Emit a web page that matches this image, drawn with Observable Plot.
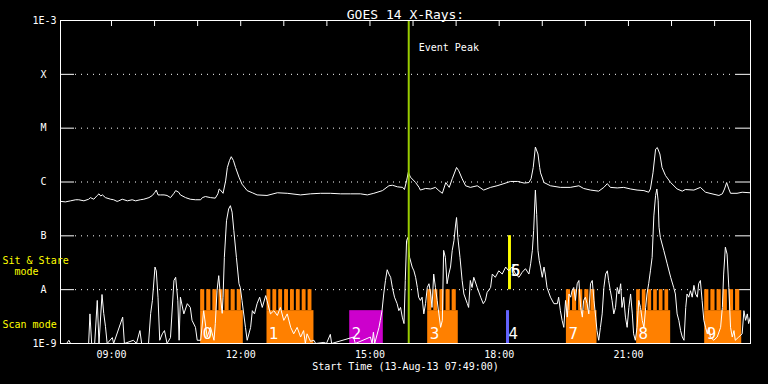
<!DOCTYPE html>
<html><head><meta charset="utf-8">
<script src="https://cdn.jsdelivr.net/npm/d3@7"></script>
<script src="https://cdn.jsdelivr.net/npm/@observablehq/plot@0.6"></script>
<style>html,body{margin:0;padding:0;background:#000;overflow:hidden;}</style>
</head><body><div id="chart"></div>
<script>
// Time in decimal hours (UT, 13-Aug-13); flux as log10(W/m^2)
const startHour = 7 + 49/60;
const endHour = 23 + 50/60;

// GOES long channel (1-8 A)
const longChannel = [
[7.82,-6.36],[7.93,-6.37],[8.05,-6.35],[8.17,-6.33],[8.24,-6.33],[8.36,-6.35],[8.47,-6.32],[8.51,-6.29],
[8.59,-6.32],[8.67,-6.25],[8.71,-6.22],[8.75,-6.26],[8.79,-6.24],[8.86,-6.29],[8.98,-6.32],[9.05,-6.33],
[9.13,-6.36],[9.17,-6.35],[9.25,-6.32],[9.37,-6.35],[9.48,-6.33],[9.56,-6.35],[9.67,-6.33],[9.75,-6.32],
[9.87,-6.29],[9.95,-6.25],[10.00,-6.20],[10.04,-6.15],[10.08,-6.24],[10.14,-6.24],[10.22,-6.24],[10.29,-6.25],
[10.37,-6.29],[10.45,-6.21],[10.49,-6.16],[10.56,-6.19],[10.60,-6.24],[10.72,-6.29],[10.83,-6.32],[10.95,-6.33],
[11.07,-6.33],[11.11,-6.29],[11.18,-6.27],[11.30,-6.29],[11.41,-6.30],[11.47,-6.22],[11.50,-6.13],[11.53,-6.15],
[11.59,-6.21],[11.65,-5.98],[11.69,-5.73],[11.74,-5.60],[11.78,-5.53],[11.83,-5.60],[11.88,-5.73],[11.96,-5.91],
[12.03,-6.04],[12.15,-6.16],[12.27,-6.20],[12.38,-6.24],[12.61,-6.25],[12.85,-6.20],[13.08,-6.21],[13.39,-6.24],
[13.62,-6.22],[13.85,-6.21],[14.08,-6.21],[14.32,-6.22],[14.55,-6.22],[14.78,-6.22],[14.94,-6.24],[15.09,-6.21],
[15.29,-6.16],[15.44,-6.07],[15.52,-6.06],[15.64,-6.09],[15.76,-6.10],[15.80,-6.14],[15.85,-5.98],[15.89,-5.82],
[15.94,-5.91],[16.06,-6.01],[16.14,-6.10],[16.17,-6.15],[16.29,-6.12],[16.41,-6.13],[16.52,-6.10],[16.60,-6.16],
[16.68,-6.21],[16.76,-6.01],[16.84,-6.10],[16.91,-5.94],[17.01,-5.73],[17.06,-5.79],[17.14,-5.94],[17.22,-6.07],
[17.33,-6.10],[17.49,-6.07],[17.64,-6.15],[17.80,-6.10],[17.95,-6.07],[18.11,-6.03],[18.26,-5.99],[18.43,-5.99],
[18.58,-6.02],[18.69,-6.01],[18.74,-5.94],[18.79,-5.73],[18.84,-5.35],[18.90,-5.48],[18.94,-5.73],[18.96,-5.83],
[19.04,-6.01],[19.19,-6.07],[19.42,-6.10],[19.65,-6.10],[19.85,-6.07],[19.96,-6.12],[20.12,-6.15],[20.31,-6.17],
[20.43,-6.10],[20.51,-6.03],[20.58,-6.10],[20.74,-6.11],[20.89,-6.10],[21.05,-6.13],[21.20,-6.15],[21.36,-6.16],
[21.47,-6.19],[21.51,-6.13],[21.57,-5.83],[21.63,-5.39],[21.67,-5.36],[21.73,-5.48],[21.78,-5.73],[21.86,-5.88],
[21.98,-6.01],[22.13,-6.13],[22.25,-6.17],[22.32,-6.14],[22.52,-6.15],[22.67,-6.10],[22.79,-6.19],[22.94,-6.22],
[23.10,-6.25],[23.18,-6.22],[23.23,-6.13],[23.28,-6.01],[23.33,-6.13],[23.37,-6.21],[23.52,-6.21],[23.64,-6.19],
[23.82,-6.20]
];

// GOES short channel (0.5-4 A), floor at 1E-9
const shortChannel = [
[7.82,-9],[7.96,-9],[8.01,-8.94],[8.05,-9],[8.47,-9],[8.50,-8.45],[8.54,-9],[8.61,-9],[8.67,-8.20],[8.71,-9],
[8.78,-8.09],[8.82,-8.44],[8.86,-8.68],[8.90,-9],[9.02,-8.89],[9.05,-9],[9.26,-8.51],[9.30,-9],[9.51,-8.94],[9.58,-9],
[9.66,-8.76],[9.70,-9],[9.86,-9],[9.91,-8.44],[9.95,-8.20],[10.01,-7.58],[10.04,-7.65],[10.08,-8.14],[10.12,-8.94],[10.18,-8.82],
[10.23,-8.76],[10.29,-9],[10.37,-8.89],[10.45,-7.83],[10.49,-7.77],[10.54,-8.20],[10.57,-8.94],[10.60,-8.14],[10.68,-8.45],[10.76,-8.26],
[10.83,-8.33],[10.87,-8.57],[10.95,-8.70],[10.99,-8.94],[11.07,-8.94],[11.14,-8.39],[11.22,-8.88],[11.30,-8.70],[11.38,-8.94],[11.41,-8.63],
[11.45,-8.02],[11.49,-7.74],[11.53,-8.14],[11.57,-8.44],[11.59,-8.14],[11.62,-7.40],[11.67,-6.72],[11.72,-6.50],[11.76,-6.44],[11.80,-6.56],
[11.84,-6.90],[11.90,-7.40],[11.96,-7.89],[11.99,-7.96],[12.03,-8.20],[12.11,-8.70],[12.15,-8.94],[12.23,-8.70],[12.27,-8.39],[12.32,-8.45],
[12.38,-8.26],[12.44,-8.14],[12.50,-8.33],[12.58,-8.11],[12.61,-8.20],[12.69,-8.45],[12.77,-8.39],[12.85,-8.48],[12.92,-8.33],[13.00,-8.57],
[13.08,-8.45],[13.16,-8.70],[13.23,-8.82],[13.31,-8.70],[13.39,-8.88],[13.46,-8.76],[13.50,-9],[13.54,-8.82],[13.62,-8.96],[13.70,-8.94],
[13.74,-9],[13.93,-8.98],[13.99,-9],[14.08,-8.83],[14.11,-9],[14.62,-8.88],[14.66,-9],[15.01,-8.88],[15.05,-9],[15.08,-8.79],
[15.11,-9],[15.21,-8.70],[15.24,-8.57],[15.28,-8.39],[15.32,-8.08],[15.36,-7.83],[15.40,-7.63],[15.44,-7.71],[15.48,-7.77],[15.52,-7.96],
[15.57,-8.14],[15.63,-8.26],[15.67,-8.39],[15.71,-8.33],[15.75,-8.51],[15.79,-8.63],[15.82,-7.83],[15.85,-7.09],[15.88,-7.03],[15.92,-7.40],
[15.98,-7.58],[16.02,-7.65],[16.06,-7.77],[16.10,-7.96],[16.13,-8.14],[16.17,-8.20],[16.21,-8.14],[16.25,-8.45],[16.29,-8.26],[16.33,-7.96],
[16.37,-7.89],[16.41,-8.08],[16.44,-8.33],[16.48,-7.71],[16.52,-7.96],[16.56,-8.20],[16.60,-8.45],[16.64,-8.70],[16.68,-8.57],[16.71,-7.27],
[16.75,-7.40],[16.79,-7.89],[16.83,-7.71],[16.87,-7.58],[16.91,-7.27],[16.95,-7.09],[16.99,-6.78],[17.01,-6.66],[17.04,-7.03],[17.09,-7.40],
[17.14,-7.83],[17.18,-8.08],[17.26,-8.26],[17.29,-8.33],[17.33,-7.83],[17.37,-7.96],[17.41,-7.77],[17.49,-7.96],[17.57,-8.14],[17.63,-8.26],
[17.68,-8.20],[17.72,-8.05],[17.80,-7.96],[17.84,-7.71],[17.91,-7.77],[17.99,-7.65],[18.07,-7.71],[18.15,-7.58],[18.22,-7.65],[18.30,-7.58],
[18.38,-7.71],[18.46,-7.77],[18.53,-7.68],[18.61,-7.61],[18.69,-7.71],[18.73,-7.52],[18.77,-7.27],[18.80,-6.90],[18.84,-6.15],[18.87,-6.60],
[18.90,-7.27],[18.93,-7.46],[18.96,-7.58],[19.00,-7.77],[19.04,-7.58],[19.07,-7.71],[19.11,-7.96],[19.19,-8.14],[19.27,-8.26],[19.35,-8.26],
[19.38,-8.14],[19.42,-8.39],[19.46,-8.57],[19.50,-8.70],[19.54,-8.20],[19.58,-8.51],[19.62,-8.08],[19.66,-8.14],[19.69,-8.02],[19.73,-7.96],
[19.77,-8.20],[19.81,-7.89],[19.85,-7.83],[19.89,-8.33],[19.93,-8.51],[19.96,-8.20],[20.00,-8.14],[20.04,-8.26],[20.08,-8.45],[20.12,-7.89],
[20.16,-7.83],[20.20,-8.20],[20.24,-8.51],[20.27,-8.76],[20.31,-8.94],[20.35,-8.70],[20.39,-8.45],[20.43,-7.96],[20.47,-7.71],[20.51,-7.65],
[20.54,-7.83],[20.58,-8.02],[20.62,-8.20],[20.66,-8.45],[20.70,-8.33],[20.74,-7.96],[20.78,-8.08],[20.82,-7.89],[20.85,-8.33],[20.89,-8.14],
[20.93,-8.51],[20.97,-8.70],[21.01,-8.33],[21.05,-8.08],[21.09,-8.45],[21.12,-8.82],[21.16,-8.94],[21.20,-8.70],[21.24,-8.20],[21.28,-8.33],
[21.32,-8.57],[21.36,-8.70],[21.40,-8.33],[21.43,-8.08],[21.47,-7.89],[21.51,-7.65],[21.55,-7.40],[21.59,-6.63],[21.63,-6.25],[21.66,-6.13],
[21.69,-6.35],[21.71,-6.84],[21.74,-7.03],[21.82,-7.27],[21.90,-7.52],[21.98,-7.77],[22.05,-7.96],[22.09,-8.08],[22.13,-8.45],[22.17,-8.57],
[22.21,-8.76],[22.25,-8.88],[22.29,-8.94],[22.33,-8.33],[22.36,-8.08],[22.40,-8.14],[22.44,-8.02],[22.48,-8.14],[22.52,-7.92],[22.56,-8.08],
[22.60,-8.14],[22.63,-7.89],[22.67,-7.83],[22.71,-8.20],[22.75,-8.57],[22.79,-8.70],[22.83,-8.82],[22.87,-8.70],[22.90,-8.88],[22.98,-8.94],
[23.06,-8.88],[23.14,-8.70],[23.18,-8.33],[23.21,-7.71],[23.25,-7.21],[23.29,-7.34],[23.33,-7.96],[23.37,-8.70],[23.41,-8.88],[23.45,-8.76],
[23.48,-8.94],[23.56,-8.88],[23.64,-8.82],[23.68,-8.39],[23.72,-8.57],[23.76,-8.45],[23.79,-8.63],[23.83,-8.51]
];

// Observation blocks
const obsLabel   = ["0","1","2","3","4","5","6","7","8","9"];
const obsStart   = [11.07,12.61,14.53,16.34,18.17,18.22,18.22,19.56,21.19,22.77];
const obsEnd     = [12.06,13.70,15.31,17.05,18.24,18.28,18.28,20.27,21.98,23.63];
const obsLow     = [-9,-9,-9,-9,-9,-8,-8,-9,-9,-9];
const obsHigh    = [-8.39,-8.39,-8.39,-8.39,-8.39,-7,-7,-8.39,-8.39,-8.39];
const obsRasters = [7,8,0,5,0,0,0,5,6,6];
const obsColor   = ["#ff8000","#ff8000","#cc00cc","#ff8000","#6464ff","#ffff00","#ffff00","#ff8000","#ff8000","#ff8000"];
const obsLabelLevel = [-8.82,-8.82,-8.82,-8.82,-8.82,-7.65,-7.65,-8.82,-8.82,-8.82];
const rasterTop = -8;

const eventPeak = [15.90];

const levels = [-9,-8,-7,-6,-5,-4,-3];
const levelLabels = ["1E-9","A","B","C","M","X","1E-3"];
const xTicks = [9,12,15,18,21];
const xTickLabels = ["09:00","12:00","15:00","18:00","21:00"];
const hourTicks = [9,10,11,12,13,14,15,16,17,18,19,20,21,22,23];

const modeLabels = [
  {text: "Sit & Stare\n\u00a0\u00a0mode", level: -7.56},
  {text: "Scan mode", level: -8.64}
];

const obs = obsLabel.map((label, i) => ({
  label, start: obsStart[i], end: obsEnd[i], low: obsLow[i], high: obsHigh[i],
  rasters: obsRasters[i], color: obsColor[i], labelLevel: obsLabelLevel[i]
}));
const teeth = obs.flatMap(o => d3.range(o.rasters).map(i => ({
  x1: o.start + i * (o.end - o.start) / o.rasters,
  x2: o.start + (i + 1) * (o.end - o.start) / o.rasters,
  color: o.color
})));

const W = 768, H = 384, mL = 60, mR = 18, mT = 20, mB = 41;
const fw = W - mL - mR, fh = H - mT - mB;
const innerLevels = levels.filter(l => l > -9 && l < -3);
const fmtLevel = d => levelLabels[levels.indexOf(d)];

const chart = Plot.plot({
  width: W, height: H,
  marginLeft: mL, marginRight: mR, marginTop: mT, marginBottom: mB,
  x: {domain: [startHour, endHour]},
  y: {domain: [-9, -3]},
  color: {type: "identity"},
  style: {background: "black", color: "white", fontFamily: "DejaVu Sans Mono", fontSize: "10px"},
  marks: [
    Plot.tickY(innerLevels, {y: d => d, stroke: "white", strokeDasharray: "1,5", insetLeft: 15, insetRight: 14}),
    Plot.tickY(innerLevels, {y: d => d, stroke: "white", insetRight: fw - 14}),
    Plot.tickY(innerLevels, {y: d => d, stroke: "white", insetLeft: fw - 14}),
    Plot.tickX(hourTicks, {x: d => d, stroke: "white", insetBottom: fh - 6}),
    Plot.rect(obs, {x1: "start", x2: "end", y1: "low", y2: "high", fill: "color"}),
    Plot.rect(teeth, {x1: "x1", x2: "x2", y1: obs[0].high, y2: rasterTop, fill: "color", insetRight: 2}),
    Plot.line(longChannel, {x: d => d[0], y: d => d[1], stroke: "white", strokeWidth: 1}),
    Plot.line(shortChannel, {x: d => d[0], y: d => d[1], stroke: "white", strokeWidth: 1}),
    Plot.text(obs, {x: "start", y: "labelLevel", text: "label", dx: 2, textAnchor: "start", fill: "white",
      fontFamily: "DejaVu Sans", fontSize: 15}),
    Plot.ruleX(eventPeak, {x: d => d, stroke: "#99cc00", strokeWidth: 2}),
    Plot.text(eventPeak, {x: d => d, frameAnchor: "top", dy: 23, dx: 10, textAnchor: "start", text: () => "Event Peak", fill: "white"}),
    Plot.frame({stroke: "white"}),
    Plot.axisY([-9, -3], {tickSize: 0, tickPadding: 4, tickFormat: fmtLevel, fill: "white"}),
    Plot.axisY(innerLevels, {tickSize: 0, tickPadding: 14, tickFormat: fmtLevel, fill: "white"}),
    Plot.axisX(xTicks, {tickSize: 0, tickPadding: 7, tickFormat: d => xTickLabels[xTicks.indexOf(d)], fill: "white", label: null}),
    Plot.text(["GOES 14 X-Rays:"], {frameAnchor: "top", dy: -10.5, text: d => d, fontSize: 13, fill: "white"}),
    Plot.text(["Start Time (13-Aug-13 07:49:00)"], {frameAnchor: "bottom", dy: 26, text: d => d, fill: "white"}),
    Plot.text(modeLabels, {y: "level", text: "text", frameAnchor: "left", dx: -58, textAnchor: "start", fill: "#ffff00", lineHeight: 1.15})
  ]
});
document.getElementById("chart").appendChild(chart);
</script>
</body></html>
